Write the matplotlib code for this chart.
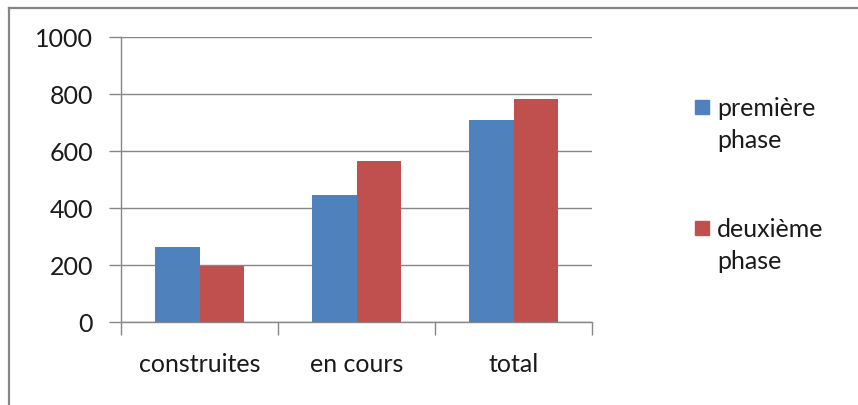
import matplotlib.pyplot as plt
import numpy as np
from matplotlib.lines import Line2D
from matplotlib.patches import Rectangle

categories = ["construites", "en cours", "total"]
series_names = ["première\nphase", "deuxième\nphase"]
premiere = [261, 445, 707]
deuxieme = [194, 564, 782]
yticks = [0, 200, 400, 600, 800, 1000]

colors = ["#4F81BD", "#C0504D"]
grey = "#868686"

plt.rcParams['font.family'] = ['Lato', 'DejaVu Sans']

W, H = 858, 406
fig = plt.figure(figsize=(W / 100, H / 100), dpi=100)
ax = fig.add_axes([121 / W, 1 - 322.7 / H, (592 - 121) / W, (322.7 - 37.7) / H])

x = np.arange(len(categories))
bw = 0.283
ax.bar(x - bw / 2, premiere, bw, color=colors[0])
ax.bar(x + bw / 2, deuxieme, bw, color=colors[1])

ax.set_xlim(-0.5, len(categories) - 0.5)
ax.set_ylim(0, 1000)
ax.set_yticks(yticks)
ax.tick_params(axis='y', length=9, width=1, color=grey, pad=11, labelsize=18,
               labelcolor='#1a1a1a')
ax.yaxis.grid(True, color=grey, linewidth=1)
ax.set_axisbelow(True)

# category boundaries carry the ticks, labels sit at the centres
ax.set_xticks(np.arange(len(categories) + 1) - 0.5)
ax.set_xticklabels([])
ax.set_xticks(x, minor=True)
ax.set_xticklabels(categories, minor=True)
ax.tick_params(axis='x', which='major', length=9, width=1, color=grey)
ax.tick_params(axis='x', which='minor', length=0, pad=22, labelsize=18,
               labelcolor='#1a1a1a')

for side in ['top', 'right']:
    ax.spines[side].set_visible(False)
for side in ['left', 'bottom']:
    ax.spines[side].set_color(grey)
    ax.spines[side].set_linewidth(1)

# legend beside the plot: square + two-line label (first line level with square)
legend_y = [101, 222]   # top of each square, px from top
for name, c, yt in zip(series_names, colors, legend_y):
    fig.add_artist(Rectangle((695 / W, 1 - (yt + 14) / H), 14 / W, 14 / H,
                             transform=fig.transFigure, color=c))
    fig.text(717 / W, 1 - (yt - 4) / H, name, fontsize=18, color='#1a1a1a',
             va='top', ha='left', linespacing=1.45)

# outer chart border (top and left edges visible)
fig.add_artist(Line2D([8.5 / W, 1], [1 - 9 / H, 1 - 9 / H], color=grey, linewidth=1.6))
fig.add_artist(Line2D([8.5 / W, 8.5 / W], [1 - 9 / H, 0], color=grey, linewidth=1.6))

fig.savefig("out.png", dpi=100)
